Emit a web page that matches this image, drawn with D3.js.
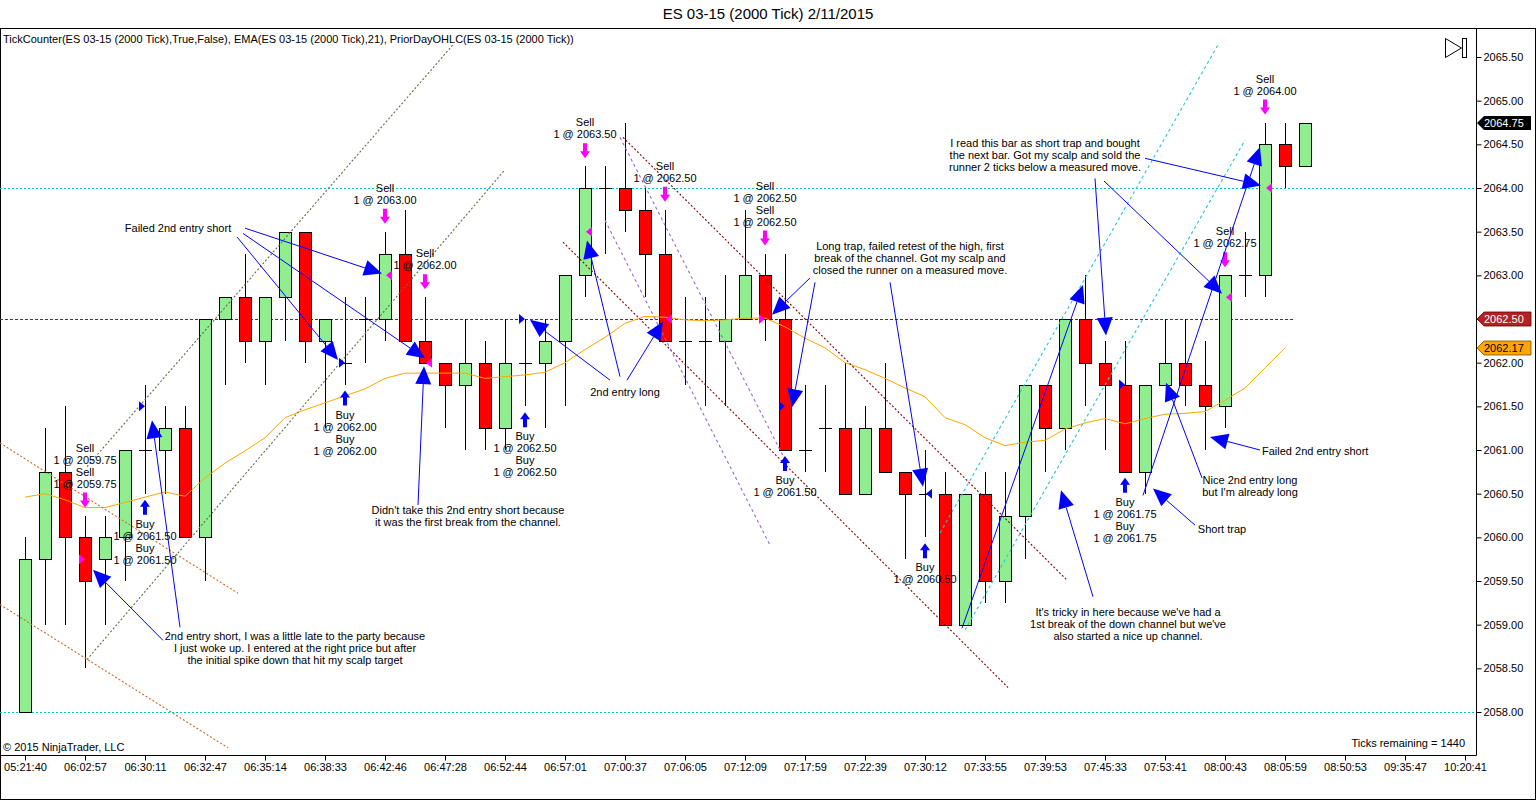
<!DOCTYPE html>
<html><head><meta charset="utf-8">
<script src="https://cdn.jsdelivr.net/npm/d3@7"></script>
<style>
body{margin:0;background:#fff}
svg{display:block}
text{font-family:"Liberation Sans",Arial,sans-serif;fill:#000}
</style></head>
<body><svg id="c" width="1536" height="800"></svg>
<script>
// ---------------- DATA ----------------
const opens  = [2058,2059.75,2060.75,2060,2059.75,2060,2061,2061,2061.25,2060,2062.5,2062.75,2062.25,2062.75,2063.5,2062.25,2062,2062.5,2062.5,2063.25,2062.25,2062,2061.75,2062,2061.25,2062,2062,2062.25,2063,2064,2064,2063.75,2063.25,2062.25,2062.25,2062.25,2062.5,2063,2062.5,2061,2061.25,2061.25,2060.5,2061.25,2060.75,2060.5,2060.5,2059,2060.5,2059.5,2060.25,2061.75,2061.25,2062.5,2062,2061.75,2060.75,2061.75,2062,2061.75,2061.5,2063,2063,2064.5,2064.25];
const highs  = [2060,2061.25,2061.5,2060.25,2060.25,2061,2061.75,2061.5,2061.5,2062.5,2062.75,2063.25,2062.75,2063.5,2063.5,2062.5,2062.75,2062.75,2063.5,2063.75,2062.75,2062,2062.5,2062.25,2062.5,2062.5,2062.5,2063,2064.25,2064.25,2064.75,2064,2063.75,2062.75,2062.75,2063,2063.75,2063.25,2063.25,2061.75,2061.75,2062,2061.5,2062,2060.75,2061,2060.75,2060.5,2060.75,2060.75,2061.75,2061.75,2062.5,2063,2062.25,2062.25,2061.75,2062.5,2062.5,2062.25,2063,2063.5,2064.75,2064.75,2064.75];
const lows   = [2058,2059,2059,2058.5,2059,2059.5,2060.5,2060.5,2060,2059.5,2061.75,2062,2061.75,2062.25,2062,2061.25,2061.75,2062,2062.25,2062.25,2062,2061.25,2061,2061,2061,2061.5,2061.25,2061.5,2062.75,2063.25,2063.5,2062.75,2062.25,2061.75,2061.5,2061.5,2062.5,2062.25,2061,2060.75,2060.75,2060.5,2060.5,2060.75,2059.75,2060,2059,2059,2059.25,2059.25,2059.75,2060.75,2061,2061.5,2061,2060.75,2060.5,2061.75,2061.5,2061,2061.25,2062.75,2062.75,2064,2064.25];
const closes = [2059.75,2060.75,2060,2059.5,2060,2061,2061,2061.25,2060,2062.5,2062.75,2062.25,2062.75,2063.5,2062.25,2062.5,2062,2062.5,2063.25,2062.25,2062,2061.75,2062,2061.25,2062,2062,2062.25,2063,2064,2064,2063.75,2063.25,2062.25,2062.25,2062.25,2062.5,2063,2062.5,2061,2061,2061.25,2060.5,2061.25,2060.75,2060.5,2060.5,2059,2060.5,2059.5,2060.25,2061.75,2061.25,2062.5,2062,2061.75,2060.75,2061.75,2062,2061.75,2061.5,2063,2063,2064.5,2064.25,2064.75];
const ema21  = [2060.46,2060.50,2060.43,2060.34,2060.34,2060.40,2060.46,2060.52,2060.47,2060.68,2060.85,2060.99,2061.14,2061.37,2061.46,2061.54,2061.62,2061.70,2061.82,2061.88,2061.88,2061.88,2061.88,2061.82,2061.84,2061.86,2061.89,2062.00,2062.15,2062.29,2062.45,2062.53,2062.52,2062.49,2062.48,2062.49,2062.51,2062.51,2062.41,2062.28,2062.17,2062.00,2061.92,2061.82,2061.71,2061.61,2061.37,2061.29,2061.14,2061.05,2061.09,2061.11,2061.24,2061.31,2061.36,2061.30,2061.36,2061.41,2061.42,2061.44,2061.57,2061.71,2061.94,2062.17];
const timeLabels = ["05:21:40","06:02:57","06:30:11","06:32:47","06:35:14","06:38:33","06:42:46","06:47:28","06:52:44","06:57:01","07:00:37","07:06:05","07:12:09","07:17:59","07:22:39","07:30:12","07:33:55","07:39:53","07:45:33","07:53:41","08:00:43","08:05:59","08:50:53","09:35:47","10:20:41"];
const priceTicks = [2058,2058.5,2059,2059.5,2060,2060.5,2061,2061.5,2062,2062.5,2063,2063.5,2064,2064.5,2065,2065.5];
const priorDayLevels = [2064.00, 2058.00];
const priorClose = 2062.50;
const lastPrice = 2064.75;
const lastEma = 2062.17;

const sellFills = [
  {bar:3,  lines:["Sell","1 @ 2059.75","Sell","1 @ 2059.75"]},
  {bar:18, lines:["Sell","1 @ 2063.00"]},
  {bar:20, lines:["Sell","1 @ 2062.00"]},
  {bar:28, lines:["Sell","1 @ 2063.50"]},
  {bar:32, lines:["Sell","1 @ 2062.50"]},
  {bar:37, lines:["Sell","1 @ 2062.50","Sell","1 @ 2062.50"]},
  {bar:60, lines:["Sell","1 @ 2062.75"]},
  {bar:62, lines:["Sell","1 @ 2064.00"]}
];
const buyFills = [
  {bar:6,  lines:["Buy","1 @ 2061.50","Buy","1 @ 2061.50"]},
  {bar:16, lines:["Buy","1 @ 2062.00","Buy","1 @ 2062.00"]},
  {bar:25, lines:["Buy","1 @ 2062.50","Buy","1 @ 2062.50"]},
  {bar:38, lines:["Buy","1 @ 2061.50"]},
  {bar:45, lines:["Buy","1 @ 2060.50"]},
  {bar:55, lines:["Buy","1 @ 2061.75","Buy","1 @ 2061.75"]}
];
// execution markers: bar, price, side (s=sell magenta, b=buy blue), dir
const fillMarks = [
  [3,2059.75,"s","r"],[18,2063.0,"s","l"],[20,2062.0,"s","l"],[28,2063.5,"s","l"],
  [32,2062.5,"s","l"],[37,2062.5,"s","r"],[60,2062.75,"s","l"],[62,2064.0,"s","l"],
  [6,2061.5,"b","r"],[16,2062.0,"b","r"],[25,2062.5,"b","r"],[38,2061.5,"b","r"],
  [45,2060.5,"b","l"],[55,2061.75,"b","r"]
];
// drawn channel lines: [bar1, price1, bar2, price2, kind]
const trendLines = [
  [3.1,2058.60,24,2064.21,"grey"],[3.1,2060.81,21.4,2065.64,"grey"],
  [-1.25,2061.08,10.65,2059.36,"orange"],[-1.25,2059.23,10.15,2057.59,"orange"],
  [29.9,2064.58,52.1,2059.51,"darkred"],[26.9,2063.38,49.15,2058.28,"darkred"],
  [29.75,2064.58,38,2060.89,"purple"],[29,2063.63,37.25,2059.91,"purple"],
  [45.75,2060.05,59.65,2065.64,"cyan"],[47,2058.94,61,2064.55,"cyan"]
];
// annotation arrows: [fromBar, fromPrice, toBar, toPrice]
const noteArrows = [
  [11,2063.54,17.85,2063.02],[10.6,2063.44,15.65,2062.03],[10.9,2063.48,20,2062.05],
  [6.9,2058.82,3.4,2059.63],[7.75,2058.97,6.35,2061.34],
  [19.65,2060.37,19.95,2061.96],
  [29.25,2061.80,25.25,2062.49],[29.75,2061.84,28.1,2063.40],[30.1,2061.80,31.9,2062.47],
  [39.25,2062.97,37.35,2062.55],[39.5,2062.92,38.35,2061.49],[43.25,2062.92,44.9,2060.58],
  [46.85,2058.96,52.9,2062.89],[53.4,2059.32,51.8,2060.54],
  [53.5,2064.11,54.05,2062.31],[53.95,2064.08,59.85,2062.79],[56,2064.34,61.8,2064.03],
  [58.85,2060.68,57.05,2061.77],[58.5,2060.14,56.4,2060.56],[55.9,2060.48,61.75,2064.47],
  [61.75,2061.00,59.25,2061.15]
];
// annotation texts: bar, price (first line), anchor, lines
const noteTexts = [
  {bar:7.65, p:2063.54, a:"middle", lines:["Failed 2nd entry short"]},
  {bar:13.5, p:2058.87, a:"middle", lines:["2nd entry short, I was a little late to the party because","I just woke up. I entered at the right price but after","the initial spike down that hit my scalp target"]},
  {bar:22.15, p:2060.31, a:"middle", lines:["Didn't take this 2nd entry short because","it was the first break from the channel."]},
  {bar:30, p:2061.66, a:"middle", lines:["2nd entry long"]},
  {bar:44.25, p:2063.34, a:"middle", lines:["Long trap, failed retest of the high, first","break of the channel. Got my scalp and","closed the runner on a measured move."]},
  {bar:55.15, p:2059.14, a:"middle", lines:["It's tricky in here because we've had a","1st break of the down channel but we've","also started a nice up channel."]},
  {bar:51, p:2064.52, a:"middle", lines:["I read this bar as short trap and bought","the next bar. Got my scalp and sold the","runner 2 ticks below a measured move."]},
  {bar:61.85, p:2060.99, a:"start", lines:["Failed 2nd entry short"]},
  {bar:61.25, p:2060.66, a:"middle", lines:["Nice 2nd entry long","but I'm already long"]},
  {bar:59.85, p:2060.10, a:"middle", lines:["Short trap"]}
];

// ---------------- DRAW ----------------
const svg = d3.select("#c");
const PL = 0, PR = 1476, PT = 28, PB = 755;
const x = d3.scaleLinear().domain([0,72]).range([25,1465]);
const y = d3.scaleLinear().domain([2058,2065.5]).range([712,57]);
const FS = 11;

svg.append("defs").append("clipPath").attr("id","plot")
  .append("rect").attr("x",PL).attr("y",PT).attr("width",PR-PL).attr("height",PB-PT);

// title
svg.append("text").attr("x",768).attr("y",19).attr("text-anchor","middle")
  .style("font-size","15px").text("ES 03-15 (2000 Tick)  2/11/2015");

// frames
svg.append("rect").attr("x",0.5).attr("y",28.5).attr("width",1535).attr("height",771)
  .attr("fill","none").attr("stroke","#000");
svg.append("line").attr("x1",PR+0.5).attr("x2",PR+0.5).attr("y1",PT).attr("y2",PB+0.5).attr("stroke","#000");
svg.append("line").attr("x1",0).attr("x2",PR+0.5).attr("y1",PB+0.5).attr("y2",PB+0.5).attr("stroke","#000");

const g = svg.append("g").attr("clip-path","url(#plot)");

// prior day levels
priorDayLevels.forEach(v=>{
  g.append("line").attr("x1",PL).attr("x2",PR).attr("y1",Math.round(y(v))+0.5).attr("y2",Math.round(y(v))+0.5)
    .attr("stroke","#00c8d0").attr("stroke-dasharray","2,2");
});
g.append("line").attr("x1",PL).attr("x2",x(63.5)).attr("y1",Math.round(y(priorClose))+0.5).attr("y2",Math.round(y(priorClose))+0.5)
  .attr("stroke","#8b1a1a").attr("stroke-dasharray","3,2");

// candles
const idx = d3.range(opens.length);
const cx = i => Math.round(x(i))+0.5;
g.selectAll("line.wick").data(idx).join("line").attr("class","wick")
  .attr("x1",cx).attr("x2",cx).attr("y1",i=>Math.round(y(highs[i]))).attr("y2",i=>Math.round(y(lows[i])))
  .attr("stroke","#000");
const bodies = idx.filter(i=>opens[i]!==closes[i]);
g.selectAll("rect.body").data(bodies).join("rect").attr("class","body")
  .attr("x",i=>Math.round(x(i))-6+0.5).attr("width",12)
  .attr("y",i=>Math.round(y(Math.max(opens[i],closes[i])))+0.5)
  .attr("height",i=>Math.round(y(Math.min(opens[i],closes[i])))-Math.round(y(Math.max(opens[i],closes[i]))))
  .attr("fill",i=>closes[i]>opens[i]?"#90ee90":"#ff0000").attr("stroke","#000");
const dojis = idx.filter(i=>opens[i]===closes[i]);
g.selectAll("line.doji").data(dojis).join("line").attr("class","doji")
  .attr("x1",i=>Math.round(x(i))-6).attr("x2",i=>Math.round(x(i))+7)
  .attr("y1",i=>Math.round(y(opens[i]))+0.5).attr("y2",i=>Math.round(y(opens[i]))+0.5).attr("stroke","#000");

// EMA
g.append("path").datum(ema21).attr("fill","none").attr("stroke","#ffa500").attr("stroke-width",1)
  .attr("d",d3.line().x((d,i)=>x(i)).y(d=>y(d)));

// trend lines
const tlStyle = {grey:["#5f6e48","2,2"],orange:["#d2691e","2,2"],darkred:["#8b0000","2,2"],purple:["#9966dd","3,3"],cyan:["#20c8d8","3,3"]};
g.selectAll("line.tl").data(trendLines).join("line").attr("class","tl")
  .attr("x1",d=>x(d[0])).attr("y1",d=>y(d[1])).attr("x2",d=>x(d[2])).attr("y2",d=>y(d[3]))
  .attr("stroke",d=>tlStyle[d[4]][0]).attr("stroke-dasharray",d=>tlStyle[d[4]][1]).attr("stroke-width",1.1);

// fill markers (small triangles)
fillMarks.forEach(([b,p,s,dir])=>{
  const X = x(b), Y = y(p);
  const col = s==="s" ? "#ff00ff" : "#0000ff";
  const pts = dir==="r" ? [[X-6,Y-5],[X,Y],[X-6,Y+5]] : [[X+7,Y-5],[X+1,Y],[X+7,Y+5]];
  g.append("polygon").attr("points",pts.map(q=>q.join(",")).join(" ")).attr("fill",col);
});

// fill labels + arrows
function sellArrow(X,Y){
  return `M${X-2},${Y-8}L${X+2},${Y-8}L${X+2},${Y}L${X+5},${Y}L${X},${Y+7}L${X-5},${Y}L${X-2},${Y}Z`;
}
function buyArrow(X,Y){
  return `M${X-2},${Y+8}L${X+2},${Y+8}L${X+2},${Y}L${X+5},${Y}L${X},${Y-7}L${X-5},${Y}L${X-2},${Y}Z`;
}
sellFills.forEach(f=>{
  const X = x(f.bar), Yh = y(highs[f.bar]);
  g.append("path").attr("d",sellArrow(X,Yh-15)).attr("fill","#ff00ff");
  const n = f.lines.length;
  f.lines.forEach((t,k)=>{
    g.append("text").attr("x",X).attr("y",Yh-32-(n-1-k)*12+4).attr("text-anchor","middle")
      .style("font-size",FS+"px").text(t);
  });
});
buyFills.forEach(f=>{
  const X = x(f.bar), Yl = y(lows[f.bar]);
  g.append("path").attr("d",buyArrow(X,Yl+13)).attr("fill","#0000ff");
  f.lines.forEach((t,k)=>{
    g.append("text").attr("x",X).attr("y",Yl+30+k*12+4).attr("text-anchor","middle")
      .style("font-size",FS+"px").text(t);
  });
});

// annotation arrows
noteArrows.forEach(([b1,p1,b2,p2])=>{
  const x1=x(b1),y1=y(p1),x2=x(b2),y2=y(p2);
  const dx=x2-x1, dy=y2-y1, L=Math.hypot(dx,dy), ux=dx/L, uy=dy/L;
  const hl=18, hw=8;
  const bx=x2-ux*hl, by=y2-uy*hl;
  g.append("line").attr("x1",x1).attr("y1",y1).attr("x2",bx).attr("y2",by).attr("stroke","#0000ff").attr("stroke-width",1);
  g.append("polygon").attr("points",[[x2,y2],[bx-uy*hw,by+ux*hw],[bx+uy*hw,by-ux*hw]].map(q=>q.join(",")).join(" "))
    .attr("fill","#0000ff");
});

// annotation texts
noteTexts.forEach(n=>{
  n.lines.forEach((t,k)=>{
    g.append("text").attr("x",x(n.bar)).attr("y",y(n.p)+4+k*12).attr("text-anchor",n.a)
      .style("font-size",FS+"px").text(t);
  });
});

// header text
svg.append("text").attr("x",3).attr("y",43).style("font-size","11px")
  .text("TickCounter(ES 03-15 (2000 Tick),True,False), EMA(ES 03-15 (2000 Tick),21), PriorDayOHLC(ES 03-15 (2000 Tick))");
svg.append("text").attr("x",3).attr("y",751).style("font-size","11px").text("\u00a9 2015 NinjaTrader, LLC");
svg.append("text").attr("x",1465).attr("y",747).attr("text-anchor","end").style("font-size","11px").text("Ticks remaining = 1440");

// play icon
svg.append("path").attr("d","M1445.5,38.5L1461.5,48L1445.5,57.5Z").attr("fill","none").attr("stroke","#000");
svg.append("rect").attr("x",1462.5).attr("y",38.5).attr("width",4).attr("height",19).attr("fill","none").attr("stroke","#000");

// y axis
const ya = svg.append("g").attr("transform",`translate(${PR+0.5},0)`)
  .call(d3.axisRight(y).tickValues(priceTicks).tickFormat(d3.format(".2f")).tickSize(5).tickPadding(2));
ya.select(".domain").remove();
ya.selectAll("text").style("font-size","11px").style("font-family","Liberation Sans, Arial, sans-serif");

// x axis
const xa = svg.append("g").attr("transform",`translate(0,${PB+0.5})`)
  .call(d3.axisBottom(x).tickValues(d3.range(0,73,3)).tickFormat(i=>timeLabels[i/3]).tickSize(5).tickPadding(3));
xa.select(".domain").remove();
xa.selectAll("text").style("font-size","11px").style("font-family","Liberation Sans, Arial, sans-serif");

// price tags
function tag(v, fill, tc, stroke){
  const Y = Math.round(y(v));
  svg.append("path").attr("d",`M${PR+1},${Y}L${PR+8},${Y-7}L${PR+55},${Y-7}L${PR+55},${Y+7}L${PR+8},${Y+7}Z`)
    .attr("fill",fill).attr("stroke",stroke||"none").attr("stroke-width",0.8);
  svg.append("text").attr("x",PR+8).attr("y",Y+4).style("font-size","11px").style("fill",tc).text(d3.format(".2f")(v));
}
tag(lastPrice,"#000","#fff");
tag(priorClose,"#b22222","#fff","#6b0000");
tag(lastEma,"#ffa500","#000","#7a5000");
</script></body></html>
